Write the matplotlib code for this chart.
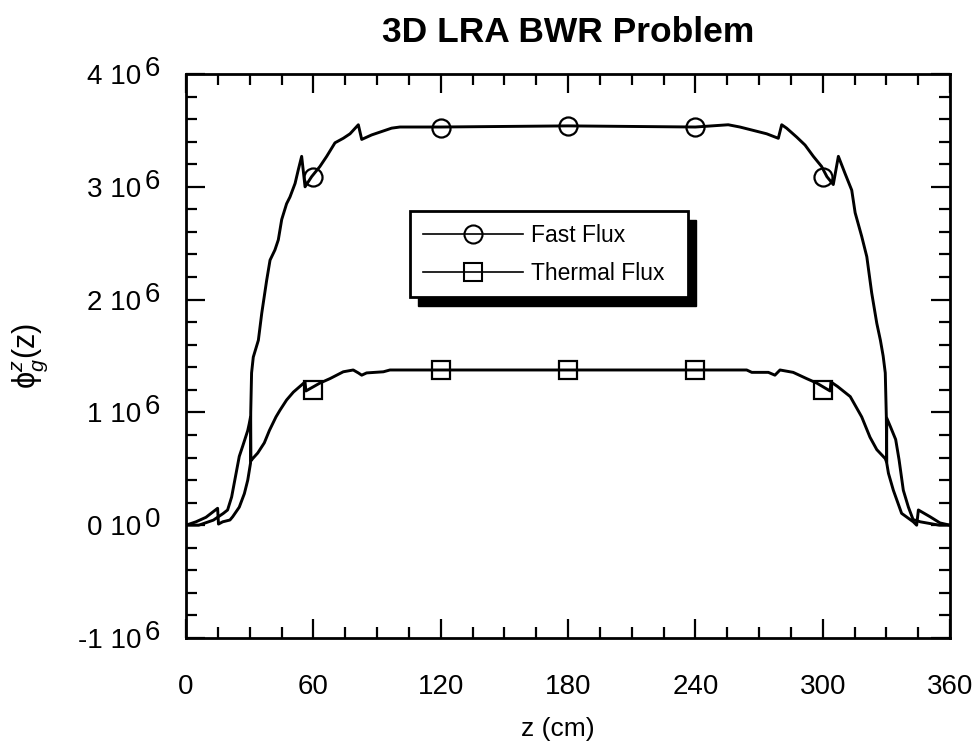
import matplotlib
matplotlib.use('Agg')
import matplotlib.pyplot as plt
import matplotlib.transforms as mtransforms
from matplotlib.lines import Line2D
from matplotlib.patches import Rectangle
from matplotlib.ticker import MultipleLocator

plt.rcParams['font.family'] = ['Liberation Sans', 'DejaVu Sans']
plt.rcParams['mathtext.fontset'] = 'custom'
plt.rcParams['mathtext.rm'] = 'Liberation Sans'
plt.rcParams['mathtext.it'] = 'Liberation Sans:italic'
plt.rcParams['mathtext.bf'] = 'Liberation Sans:bold'

SCALE = 1e6

# Fast flux (units of 1e6)
z_fast = [0, 4.7, 9.4, 14.9, 15.3, 17.3, 20.7, 22, 25.1, 27.5, 29.1, 30.4,
          30.5, 30.9, 31.7, 34.1, 35.7, 38.0, 39.6, 41.9, 43.5, 45.1, 47.4, 49.0,
          51.4, 52.9, 54.5, 56.1, 59.2, 63.1, 66.3, 70.2, 74.1, 77.3, 81.2, 82.8,
          87.5, 92.2, 96.9, 100.8, 107.1, 120, 180, 240, 255.5, 261, 267.3, 273.6,
          279.1, 280.7, 283, 287.8, 291.7, 295.6, 299.5, 302, 305, 307.4, 310.5,
          313.7, 315.3, 318.4, 320.8, 323.1, 325.5, 327.2, 328.5, 329.5, 330.0,
          330.2, 331, 333.3, 337.2, 342.7, 344.3, 345.1, 350.6, 355.3, 360]
phi_fast = [0, 0.03, 0.07, 0.15, 0.01, 0.03, 0.046, 0.075, 0.16, 0.28, 0.40, 0.55,
            1.0, 1.35, 1.49, 1.64, 1.88, 2.17, 2.35, 2.44, 2.53, 2.71, 2.85, 2.91,
            3.03, 3.15, 3.27, 3.00, 3.09, 3.18, 3.27, 3.39, 3.43, 3.47, 3.55, 3.42,
            3.46, 3.49, 3.52, 3.53, 3.53, 3.53, 3.54, 3.53, 3.55, 3.53, 3.50, 3.47,
            3.43, 3.55, 3.52, 3.44, 3.37, 3.27, 3.18, 3.09, 3.02, 3.27, 3.12,
            2.97, 2.77, 2.56, 2.38, 2.06, 1.79, 1.64, 1.50, 1.35, 0.96,
            0.55, 0.46, 0.31, 0.105, 0.03, 0.0, 0.135, 0.075, 0.02, 0]

# Thermal flux (units of 1e6)
z_thermal = [0, 6, 12.9, 17.6, 19.6, 21.5, 22.3, 23.6, 25.1, 26.7, 29.1, 29.8, 30.4,
             30.6, 31.4, 33.8, 36.9, 39.3, 42.4, 44.3, 47.4, 50.6, 56.1, 56.5, 63.1,
             67.9, 74.1, 78.8, 81.2, 82.8, 85.1, 93, 96.1, 180, 264.2, 266.6, 274.4,
             277.5, 279.9, 286.1, 292.4, 297.2, 303.5, 303.9, 307, 313, 318.4, 322.3,
             325.5, 329.5, 330.1, 330.2, 332, 334.4, 336, 338, 340.4, 342.6, 346,
             352, 355, 360]
phi_thermal = [0, 0, 0.045, 0.105, 0.135, 0.25, 0.33, 0.46, 0.61, 0.70, 0.84, 0.90, 0.96,
               0.57, 0.59, 0.64, 0.73, 0.84, 0.96, 1.02, 1.11, 1.18, 1.27, 1.19, 1.26,
               1.30, 1.36, 1.376, 1.35, 1.33, 1.35, 1.36, 1.376, 1.376, 1.376, 1.355, 1.355,
               1.33, 1.376, 1.355, 1.30, 1.26, 1.19, 1.27, 1.23, 1.14, 0.96, 0.78,
               0.67, 0.59, 0.56, 0.95, 0.87, 0.76, 0.58, 0.31, 0.16, 0.05, 0.03,
               0.01, 0, 0]

z_markers = [60, 120, 180, 240, 300]
fast_markers = [3.09, 3.52, 3.54, 3.53, 3.09]
thermal_markers = [1.2, 1.376, 1.376, 1.376, 1.2]

x_ticks = [0, 60, 120, 180, 240, 300, 360]
y_ticks = [-1, 0, 1, 2, 3, 4]
y_tick_mantissa = ['-1 10', '0 10', '1 10', '2 10', '3 10', '4 10']
y_tick_exponent = ['6', '0', '6', '6', '6', '6']
legend_labels = ['Fast Flux', 'Thermal Flux']

TICK_FS = 20

fig = plt.figure(figsize=(9.74, 7.51), dpi=100)
ax = fig.add_axes([186/974, 1-638/751, 764/974, 564/751])

ax.plot(z_fast, [v*SCALE for v in phi_fast], color='k', lw=2.1, zorder=2)
ax.plot(z_thermal, [v*SCALE for v in phi_thermal], color='k', lw=2.1, zorder=2)
ax.plot(z_markers, [v*SCALE for v in fast_markers], linestyle='none', marker='o',
        ms=13, mfc='none', mec='k', mew=1.6, zorder=3)
ax.plot(z_markers, [v*SCALE for v in thermal_markers], linestyle='none', marker='s',
        ms=13, mfc='none', mec='k', mew=1.6, zorder=3)

ax.set_xlim(0, 360)
ax.set_ylim(-1*SCALE, 4*SCALE)
ax.set_xticks(x_ticks)
ax.set_xticklabels([str(t) for t in x_ticks])
ax.set_yticks([t*SCALE for t in y_ticks])
ax.set_yticklabels(y_tick_mantissa)
ax.xaxis.set_minor_locator(MultipleLocator(15))
ax.yaxis.set_minor_locator(MultipleLocator(0.2*SCALE))
ax.tick_params(which='both', direction='in', top=True, right=True, width=1.6,
               labelsize=TICK_FS)
ax.tick_params(which='major', length=14)
ax.tick_params(which='minor', length=8)
ax.tick_params(axis='x', pad=26)
ax.tick_params(axis='y', pad=32)
for s in ax.spines.values():
    s.set_linewidth(2)

# exponents of the y tick labels, same size, raised
blend = mtransforms.blended_transform_factory(ax.transAxes, ax.transData)
exp_tr = mtransforms.offset_copy(blend, fig=fig, x=0, y=8, units='dots')
for t, e in zip(y_ticks, y_tick_exponent):
    ax.text((145-186)/764, t*SCALE, e, transform=exp_tr, ha='left',
            va='center_baseline', fontsize=TICK_FS, clip_on=False)

ax.set_xlabel('z (cm)', fontsize=19)
ax.xaxis.set_label_coords(0.487, -0.14)
ax.set_ylabel('ϕ$_{g}^{z}$(z)', fontsize=22)
ax.yaxis.set_label_coords(-0.178, 0.5)

fig.text(568/974, 1-42/751, '3D LRA BWR Problem', ha='center', va='baseline',
         fontsize=25.5, fontweight='bold')

handles = [Line2D([], [], color='k', lw=1.2, marker='o', ms=13, mfc='none', mec='k', mew=1.5),
           Line2D([], [], color='k', lw=1.2, marker='s', ms=13, mfc='none', mec='k', mew=1.5)]
lx0 = (410-186)/764
lx1 = (688-186)/764
ly1 = (638-211)/564
leg = ax.legend(handles, legend_labels, loc='upper left',
                bbox_to_anchor=(lx0, ly1 - 0.2, lx1 - lx0, 0.2), mode='expand',
                borderaxespad=0, fontsize=16.5, handlelength=4.4, handletextpad=0.32,
                borderpad=0.55, labelspacing=0.66, frameon=True, fancybox=False,
                edgecolor='k', framealpha=1, numpoints=1)
leg.get_frame().set_linewidth(2)
leg.set_zorder(5)

fig.canvas.draw()
bb = leg.get_frame().get_window_extent()
dx, dy = 8, 9
inv = ax.transAxes.inverted()
(x0, y0) = inv.transform((bb.x0 + dx, bb.y0 - dy))
(x1, y1) = inv.transform((bb.x1 + dx, bb.y1 - dy))
shadow = Rectangle((x0, y0), x1 - x0, y1 - y0, transform=ax.transAxes,
                   facecolor='k', edgecolor='k', zorder=4.5, clip_on=False)
ax.add_patch(shadow)

fig.savefig('out.png', dpi=100)
